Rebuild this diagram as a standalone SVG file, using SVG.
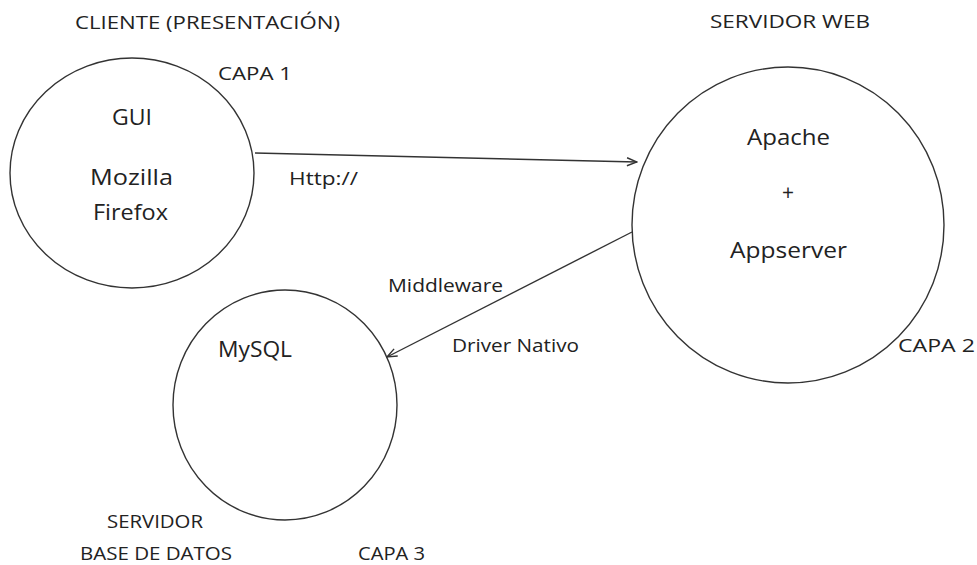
<svg xmlns="http://www.w3.org/2000/svg" width="977" height="565" viewBox="0 0 977 565">
<defs>
<marker id="arr" viewBox="0 0 12 10" refX="11" refY="5" markerWidth="12" markerHeight="10" markerUnits="userSpaceOnUse" orient="auto">
<path d="M1,1 L11,5 L1,9" fill="none" stroke="#333" stroke-width="1.4"/>
</marker>
</defs>
<style>
.n{fill:#fff;stroke:#333;stroke-width:1.4}
.c{fill:none;stroke:#333;stroke-width:1.4}
text{font-family:"Open Sans","DejaVu Sans",sans-serif;fill:#222}
.s{font-size:18px}
.b{font-size:21px}
</style>
<rect width="977" height="565" fill="#fff"/>
<g id="labels">
<text class="s" x="75" y="29" textLength="265" lengthAdjust="spacingAndGlyphs">CLIENTE (PRESENTACIÓN)</text>
<text class="s" x="710" y="28" textLength="160" lengthAdjust="spacingAndGlyphs">SERVIDOR WEB</text>
<text class="s" x="218" y="80" textLength="74" lengthAdjust="spacingAndGlyphs">CAPA 1</text>
<text class="s" x="898" y="352" textLength="77" lengthAdjust="spacingAndGlyphs">CAPA 2</text>
<text class="s" x="358" y="560" textLength="67" lengthAdjust="spacingAndGlyphs">CAPA 3</text>
<text class="s" x="107" y="528" textLength="96" lengthAdjust="spacingAndGlyphs">SERVIDOR</text>
<text class="s" x="80" y="560" textLength="152" lengthAdjust="spacingAndGlyphs">BASE DE DATOS</text>
</g>
<g id="cliente">
<ellipse class="n" cx="132" cy="173" rx="122" ry="115"/>
<text class="b" x="112" y="125" textLength="40" lengthAdjust="spacingAndGlyphs">GUI</text>
<text class="b" x="90" y="185" textLength="83" lengthAdjust="spacingAndGlyphs">Mozilla</text>
<text class="b" x="93" y="220" textLength="75" lengthAdjust="spacingAndGlyphs">Firefox</text>
</g>
<g id="servidor-web">
<ellipse class="n" cx="788" cy="225" rx="156" ry="158"/>
<text class="b" x="747" y="145" textLength="83" lengthAdjust="spacingAndGlyphs">Apache</text>
<text class="b" x="788" y="200" text-anchor="middle">+</text>
<text class="b" x="730" y="258" textLength="117" lengthAdjust="spacingAndGlyphs">Appserver</text>
</g>
<g id="servidor-bd">
<ellipse class="n" cx="285" cy="405" rx="112" ry="115"/>
<text class="b" x="218" y="357" textLength="74" lengthAdjust="spacingAndGlyphs">MySQL</text>
</g>
<g id="connectors">
<line class="c" x1="255" y1="153" x2="637" y2="162" marker-end="url(#arr)"/>
<line class="c" x1="632" y1="232" x2="387" y2="357" marker-end="url(#arr)"/>
<text class="s" x="289" y="185" textLength="69" lengthAdjust="spacingAndGlyphs">Http://</text>
<text class="s" x="388" y="292" textLength="115" lengthAdjust="spacingAndGlyphs">Middleware</text>
<text class="s" x="452" y="352" textLength="127" lengthAdjust="spacingAndGlyphs">Driver Nativo</text>
</g>
</svg>
